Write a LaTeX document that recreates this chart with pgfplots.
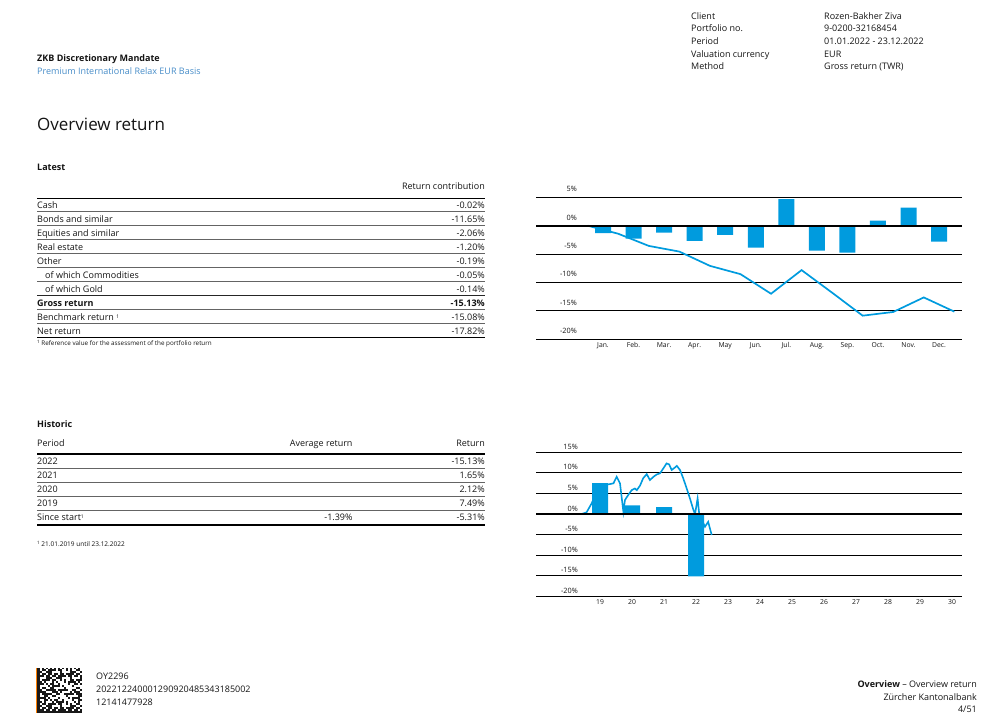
\documentclass[border=0pt]{standalone}
\usepackage{fontspec}
\setmainfont{Open Sans}
\usepackage{pgfplots}
\pgfplotsset{compat=1.18}
\definecolor{zkb}{RGB}{0,155,222}
\definecolor{sub}{RGB}{70,140,200}
\definecolor{txt}{RGB}{20,20,20}
\definecolor{rulec}{RGB}{100,100,100}
\newcommand\fs[1]{\fontsize{#1bp}{#1bp}\selectfont}

\begin{document}
\begin{tikzpicture}
\path[use as bounding box] (0,0) rectangle (1001bp,728bp);
\begin{scope}[x=1bp,y=-1bp,shift={(0,728bp)},every node/.style={inner sep=0pt,text=txt}]
% header left
\node[anchor=base west,font=\fs{9}\bfseries] at (37,61.3) {ZKB Discretionary Mandate};
\node[anchor=base west,font=\fs{9},text=sub] at (37,74.3) {Premium International Relax EUR Basis};
% header right
\foreach \l/\v/\y in {Client/Rozen-Bakher Ziva/19.3, Portfolio no./9-0200-32168454/31.9, Period/01.01.2022 - 23.12.2022/44.5, Valuation currency/EUR/57.1, Method/Gross return (TWR)/69.7}{
  \node[anchor=base west,font=\fs{9}] at (691,\y) {\l};
  \node[anchor=base west,font=\fs{9}] at (824,\y) {\v};
}
% title
\node[anchor=base west,font=\fs{17}] at (37,130.5) {Overview return};
% Latest table
\node[anchor=base west,font=\fs{9}\bfseries] at (37,170.3) {Latest};
\node[anchor=base east,font=\fs{9}] at (485,189.3) {Return contribution};
\draw[black,line width=1.5bp] (37,198.3) -- (485,198.3);
\foreach \a/\b/\y in {Cash/-0.02\%/209, Bonds and similar/-11.65\%/223, Equities and similar/-2.06\%/236.8, Real estate/-1.20\%/250.7, Other/-0.19\%/264.7, \hspace*{8bp}of which Commodities/-0.05\%/278.9, \hspace*{8bp}of which Gold/-0.14\%/292.9, Net return/-17.82\%/334.6}{
  \node[anchor=base west,font=\fs{9}] at (37,\y) {\a};
  \node[anchor=base east,font=\fs{9}] at (485,\y) {\b};
}
\node[anchor=base west,font=\fs{9}\bfseries] at (37,306.7) {Gross return};
\node[anchor=base east,font=\fs{9}\bfseries] at (485,306.7) {-15.13\%};
\node[anchor=base west,font=\fs{9}] at (37,320.6) {Benchmark return \raisebox{2.5bp}{\fs{5}1}};
\node[anchor=base east,font=\fs{9}] at (485,320.6) {-15.08\%};
\foreach \y in {211.7,225.7,239.3,253.3,267.3,281.7,309.3,323.3}{
  \draw[rulec,line width=1.4bp] (37,\y) -- (485,\y);
}
\draw[black!85,line width=1.5bp] (37,295.7) -- (485,295.7);
\draw[black,line width=1.6bp] (37,337.5) -- (485,337.5);
\node[anchor=base west,font=\fs{6.3}] at (37,345.3) {\raisebox{2bp}{\fs{4.5}1} Reference value for the assessment of the portfolio return};
% Historic table
\node[anchor=base west,font=\fs{9}\bfseries] at (37,427.3) {Historic};
\node[anchor=base west,font=\fs{9}] at (37,447) {Period};
\node[anchor=base east,font=\fs{9}] at (352.7,447) {Average return};
\node[anchor=base east,font=\fs{9}] at (485,447) {Return};
\draw[black,line width=1.5bp] (37,454) -- (485,454);
\foreach \a/\b/\y in {2022/-15.13\%/465, 2021/1.65\%/479, 2020/2.12\%/493, 2019/7.49\%/507}{
  \node[anchor=base west,font=\fs{9}] at (37,\y) {\a};
  \node[anchor=base east,font=\fs{9}] at (485,\y) {\b};
}
\node[anchor=base west,font=\fs{9}] at (37,521) {Since start\raisebox{2.5bp}{\fs{5}1}};
\node[anchor=base east,font=\fs{9}] at (352.7,521) {-1.39\%};
\node[anchor=base east,font=\fs{9}] at (485,521) {-5.31\%};
\foreach \y in {468.7,482.7,496.7,510.7}{
  \draw[rulec,line width=1.4bp] (37,\y) -- (485,\y);
}
\draw[black,line width=1.6bp] (37,525) -- (485,525);
\node[anchor=base west,font=\fs{6.5}] at (37,547) {\raisebox{2bp}{\fs{4.5}1} 21.01.2019 until 23.12.2022};
% footer left: data matrix (decorative)
\fill[black!90] (37,668) rectangle (82,713);
\foreach \i in {1,...,21}{\foreach \j in {0,...,20}{
  \pgfmathtruncatemacro\v{mod(\i*\i*7+\j*\j*13+\i*\j*5+\j*29+\i*11,17)}
  \ifnum\v<8 \fill[white] ({37+1+\i*2},{668+1+\j*2}) rectangle ++(2,2);\fi
}}
\foreach \i in {1,3,...,21}{\fill[white] ({37+1+\i*2},668) rectangle ++(2,1);}
\draw[orange,line width=0.8bp] (36.4,668) -- (36.4,713);
\node[anchor=base west,font=\fs{9}] at (96,679.3) {OY2296};
\node[anchor=base west,font=\fs{9}] at (96,692.3) {202212240001290920485343185002};
\node[anchor=base west,font=\fs{9}] at (96,705.3) {12141477928};
% footer right
\node[anchor=base east,font=\fs{9}] at (977,687.3) {\textbf{Overview} – Overview return};
\node[anchor=base east,font=\fs{9}] at (977,700.3) {Zürcher Kantonalbank};
\node[anchor=base east,font=\fs{9}] at (977,712.6) {4/51};
\end{scope}

% ---------- Chart 1: monthly returns 2022 ----------
\begin{axis}[at={(536bp,388.7bp)},anchor=south west,scale only axis,
  width=426bp,height=142bp,
  xmin=-1.193,xmax=12.751,ymin=-20,ymax=5,
  axis line style={draw=none},tick style={draw=none},
  ymajorgrids,grid style={black,line width=0.9bp},
  ytick={-20,-15,-10,-5,0,5},
  yticklabels={-20\%,-15\%,-10\%,-5\%,0\%,5\%},
  yticklabel style={anchor=base east,inner sep=0pt,xshift=41bp,yshift=5.5bp,font=\fs{7.3},text=txt},
  xtick={1,...,12},
  xticklabels={Jan.,Feb.,Mar.,Apr.,May,Jun.,Jul.,Aug.,Sep.,Oct.,Nov.,Dec.},
  xticklabel style={anchor=north,inner sep=0pt,yshift=-3bp,font=\fs{6.8},text=txt},
  clip=false]
\addplot[ybar,bar width=16bp,fill=zkb,draw=none] coordinates {
  (1,-1.33) (2,-2.28) (3,-1.23) (4,-2.68) (5,-1.63) (6,-3.86)
  (7,4.68) (8,-4.39) (9,-4.74) (10,0.88) (11,3.16) (12,-2.81)};
\addplot[zkb,line width=1.7bp,mark=none] coordinates {
  (0.5,0) (1.5,-1.42) (2.5,-3.56) (3.5,-4.56) (4.5,-7.07) (5.5,-8.53)
  (6.5,-11.98) (7.5,-7.82) (8.5,-11.8) (9.5,-15.84) (10.5,-15.19)
  (11.5,-12.63) (12.5,-15.13)};
\draw[black,line width=1.8bp] (axis cs:-1.193,0) -- (axis cs:12.751,0);
\end{axis}

% ---------- Chart 2: yearly returns ----------
\begin{axis}[at={(536bp,131.7bp)},anchor=south west,scale only axis,
  width=426bp,height=144bp,
  xmin=17.5,xmax=30.8125,ymin=-20,ymax=15,
  axis line style={draw=none},tick style={draw=none},
  ymajorgrids,grid style={black,line width=0.9bp},
  ytick={-20,-15,-10,-5,0,5,10,15},
  yticklabels={-20\%,-15\%,-10\%,-5\%,0\%,5\%,10\%,15\%},
  yticklabel style={anchor=base east,inner sep=0pt,xshift=42bp,yshift=3bp,font=\fs{7.3},text=txt},
  xtick={19.5,20.5,...,30.5},
  xticklabels={19,20,21,22,23,24,25,26,27,28,29,30},
  xticklabel style={anchor=north,inner sep=0pt,yshift=-3bp,font=\fs{6.8},text=txt},
  clip=false]
\addplot[ybar,bar width=16bp,fill=zkb,draw=none] coordinates {
  (19.5,7.49) (20.5,2.12) (21.5,1.65) (22.5,-15.13)};
\addplot[zkb,line width=1.6bp,mark=none] coordinates {
  (18.93,0) (19.08,0.41) (19.24,2.6) (19.44,6.3) (19.63,7.2) (19.76,7.2)
  (19.92,7.45) (20.02,9.05) (20.125,7.45) (20.23,0.56) (20.28,3.4)
  (20.38,4.6) (20.49,5.8) (20.59,6.2) (20.65,5.8) (20.75,6.9) (20.85,8.7)
  (20.96,9.7) (21.06,8.25) (21.17,9.05) (21.27,9.6) (21.375,9.9)
  (21.48,11.1) (21.58,12.3) (21.66,12.06) (21.74,10.7) (21.84,11.3)
  (21.9,11.7) (22.0,10.7) (22.1,8.7) (22.21,6.2) (22.31,3.8) (22.42,0.97)
  (22.47,0) (22.55,3.8) (22.6,0) (22.78,-3.1) (22.88,-1.9) (22.99,-5.1)};
\draw[black,line width=1.8bp] (axis cs:17.5,0) -- (axis cs:30.8125,0);
\end{axis}
\end{tikzpicture}
\end{document}
